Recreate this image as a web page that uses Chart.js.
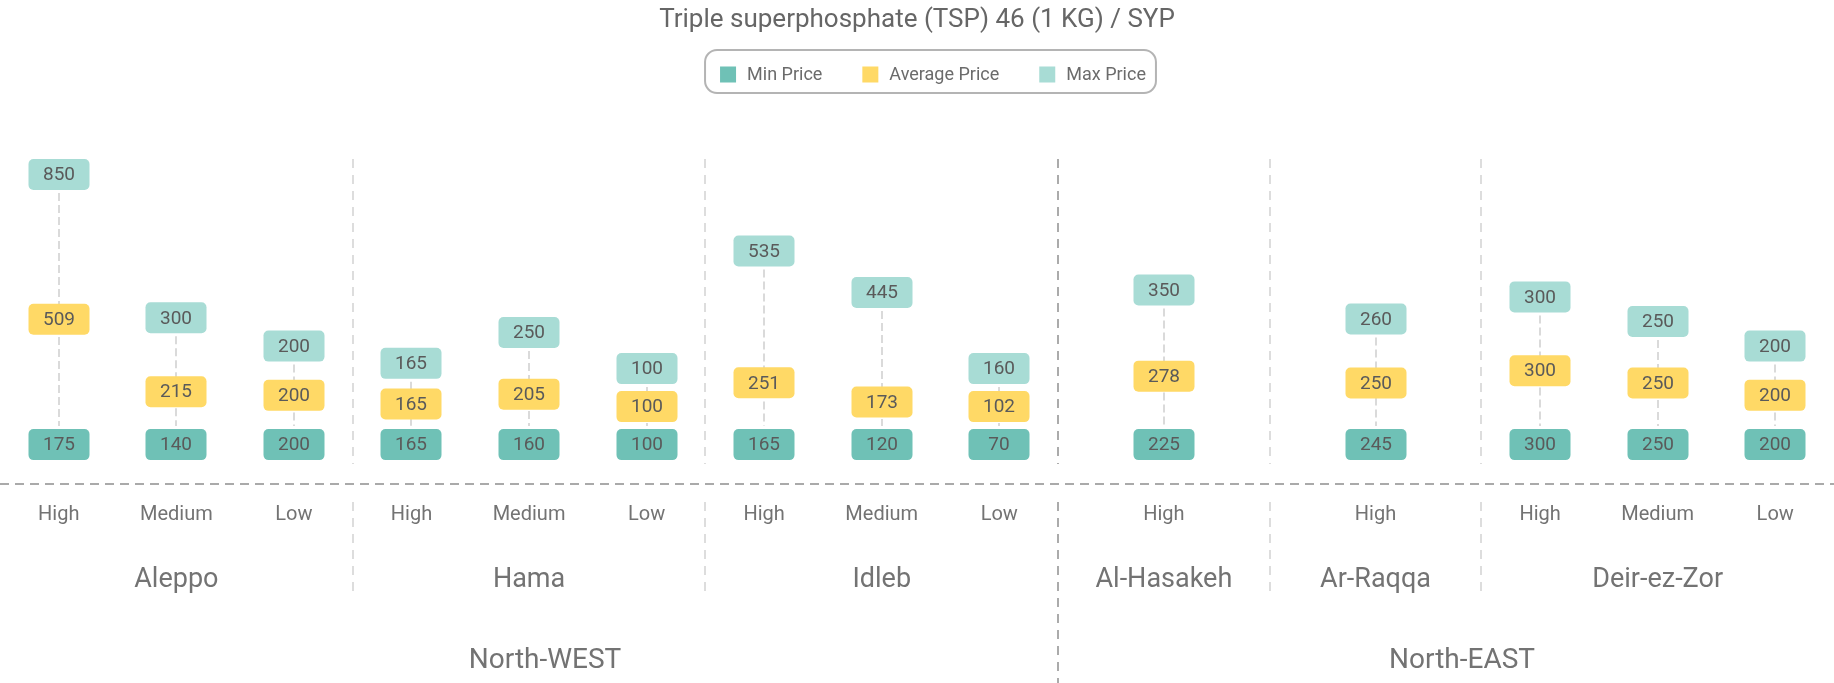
<!DOCTYPE html>
<html>
<head>
<meta charset="utf-8">
<title>Triple superphosphate (TSP) 46 (1 KG) / SYP</title>
<script src="https://cdn.jsdelivr.net/npm/chart.js@4.4.1/dist/chart.umd.min.js"></script>
<style>
  html, body { margin: 0; padding: 0; background: #fff; }
  #wrap { width: 1834px; height: 683px; position: relative; }
</style>
</head>
<body>
<div id="wrap"><canvas id="chart"></canvas></div>
<script>
const regions = ["North-WEST", "North-EAST"];
const governorates = ["Aleppo", "Hama", "Idleb", "Al-Hasakeh", "Ar-Raqqa", "Deir-ez-Zor"];
const govRegion = [0, 0, 0, 1, 1, 1];
const tiers = ["High", "Medium", "Low", "High", "Medium", "Low", "High", "Medium", "Low", "High", "High", "High", "Medium", "Low"];
const tierGov = [0, 0, 0, 1, 1, 1, 2, 2, 2, 3, 4, 5, 5, 5];

const minPrice = [175, 140, 200, 165, 160, 100, 165, 120, 70, 225, 245, 300, 250, 200];
const avgPrice = [509, 215, 200, 165, 205, 100, 251, 173, 102, 278, 250, 300, 250, 200];
const maxPrice = [850, 300, 200, 165, 250, 100, 535, 445, 160, 350, 260, 300, 250, 200];

const FONT = "Roboto, 'Noto Sans', sans-serif";
const TEXT = "#6b6b6b";
const COLORS = { min: "#6fc1b6", avg: "#ffd966", max: "#a8dcd5" };

// x layout: every governorate gets (tiers + 2) units, its tiers share it evenly
const govCount = governorates.map((g, gi) => tierGov.filter(t => t === gi).length);
const govStart = [];
let units = 0;
govCount.forEach(c => { govStart.push(units); units += c + 2; });
const govWidth = gi => govCount[gi] + 2;

const tierX = tierGov.map((gi, i) => {
  const j = tierGov.slice(0, i).filter(t => t === gi).length;
  return govStart[gi] + (j + 0.5) * govWidth(gi) / govCount[gi];
});

const BOX_W = 61, BOX_H = 31, GAP = 38;

function roundRect(ctx, x, y, w, h, r) {
  ctx.beginPath();
  ctx.moveTo(x + r, y);
  ctx.arcTo(x + w, y, x + w, y + h, r);
  ctx.arcTo(x + w, y + h, x, y + h, r);
  ctx.arcTo(x, y + h, x, y, r);
  ctx.arcTo(x, y, x + w, y, r);
  ctx.closePath();
}

function priceBox(ctx, cx, cy, fill, text) {
  ctx.fillStyle = fill;
  roundRect(ctx, cx - BOX_W / 2, cy - BOX_H / 2, BOX_W, BOX_H, 5);
  ctx.fill();
  ctx.fillStyle = "#5a5a5a";
  ctx.font = "19px " + FONT;
  ctx.textAlign = "center";
  ctx.textBaseline = "middle";
  ctx.fillText(text, cx, cy + 1);
}

// boxes + dashed connectors, min label sits at the base of each stack
const priceLabels = {
  id: "priceLabels",
  afterDatasetsDraw(chart) {
    const { ctx, chartArea, scales: { y } } = chart;
    const metaAvg = chart.getDatasetMeta(1);
    const metaMax = chart.getDatasetMeta(2);
    const base = y.getPixelForValue(0);
    ctx.save();
    tiers.forEach((t, i) => {
      const x = Math.round(metaAvg.data[i].x);
      const yMin = base;
      const yAvg = Math.min(metaAvg.data[i].y, yMin - GAP);
      let yMax = Math.min(metaMax.data[i].y, yAvg - GAP);
      yMax = Math.max(yMax, chartArea.top + BOX_H / 2);

      ctx.strokeStyle = "#dadada";
      ctx.lineWidth = 2;
      ctx.setLineDash([8, 4]);
      ctx.beginPath();
      ctx.moveTo(x, yMax + BOX_H / 2 + 3);
      ctx.lineTo(x, yMin - BOX_H / 2 - 3);
      ctx.stroke();
      ctx.setLineDash([]);

      priceBox(ctx, x, yMin, COLORS.min, minPrice[i]);
      priceBox(ctx, x, yAvg, COLORS.avg, avgPrice[i]);
      priceBox(ctx, x, yMax, COLORS.max, maxPrice[i]);
    });
    ctx.restore();
  }
};

// baseline, separators, governorate / region names and the boxed legend
const groupAxis = {
  id: "groupAxis",
  afterDraw(chart) {
    const { ctx, chartArea, scales: { x } } = chart;
    const bottom = chartArea.bottom;
    ctx.save();

    ctx.strokeStyle = "#aaaaaa";
    ctx.lineWidth = 2;
    ctx.setLineDash([9, 6]);
    ctx.beginPath();
    ctx.moveTo(0, bottom);
    ctx.lineTo(chart.width, bottom);
    ctx.stroke();

    govStart.slice(1).forEach((s, k) => {
      const gi = k + 1;
      const major = govRegion[gi] !== govRegion[gi - 1];
      const px = Math.round(x.getPixelForValue(s));
      ctx.strokeStyle = major ? "#ababab" : "#d2d2d2";
      ctx.lineWidth = major ? 2 : 1.5;
      ctx.setLineDash([9, 7]);
      ctx.beginPath();
      ctx.moveTo(px, chartArea.top);
      ctx.lineTo(px, bottom - 20);
      ctx.moveTo(px, bottom + 18);
      ctx.lineTo(px, major ? chart.height : bottom + 111);
      ctx.stroke();
    });
    ctx.setLineDash([]);

    ctx.fillStyle = "#737373";
    ctx.textAlign = "center";
    ctx.textBaseline = "middle";
    ctx.font = "27px " + FONT;
    governorates.forEach((g, gi) => {
      ctx.fillText(g, x.getPixelForValue(govStart[gi] + govWidth(gi) / 2), bottom + 96);
    });

    ctx.font = "28px " + FONT;
    regions.forEach((r, ri) => {
      const idx = govRegion.map((v, i) => (v === ri ? i : -1)).filter(i => i >= 0);
      const last = idx[idx.length - 1];
      const a = govStart[idx[0]];
      const b = govStart[last] + govWidth(last);
      ctx.fillText(r, x.getPixelForValue((a + b) / 2) + 16, bottom + 177);
    });

    // legend
    ctx.font = "18px " + FONT;
    const items = chart.data.datasets.map(d => ({
      label: d.label,
      color: d.backgroundColor,
      w: 16 + 11 + ctx.measureText(d.label).width
    }));
    const spacing = 40;
    const total = items.reduce((s, it) => s + it.w, 0) + spacing * (items.length - 1);
    let lx = 933 - total / 2;
    const ly = 74.5;
    ctx.strokeStyle = "#b4b4b4";
    ctx.lineWidth = 2;
    roundRect(ctx, lx - 15, 50, total + 25, 43, 12);
    ctx.stroke();
    ctx.textAlign = "left";
    items.forEach(it => {
      ctx.fillStyle = it.color;
      ctx.fillRect(lx, ly - 8, 16, 16);
      ctx.fillStyle = TEXT;
      ctx.fillText(it.label, lx + 27, ly + 1);
      lx += it.w + spacing;
    });

    ctx.restore();
  }
};

const points = vals => vals.map((v, i) => ({ x: tierX[i], y: v }));

new Chart(document.getElementById("chart"), {
  type: "line",
  data: {
    datasets: [
      { label: "Min Price", data: points(minPrice), stack: "base", backgroundColor: COLORS.min, borderColor: COLORS.min },
      { label: "Average Price", data: points(avgPrice), stack: "range", backgroundColor: COLORS.avg, borderColor: COLORS.avg },
      { label: "Max Price", data: points(maxPrice), stack: "range", backgroundColor: COLORS.max, borderColor: COLORS.max }
    ]
  },
  options: {
    responsive: true,
    maintainAspectRatio: false,
    animation: false,
    events: [],
    showLine: false,
    elements: { point: { radius: 0, hoverRadius: 0 } },
    layout: { padding: 0 },
    plugins: {
      legend: { display: false },
      tooltip: { enabled: false },
      title: {
        display: true,
        text: "Triple superphosphate (TSP) 46 (1 KG) / SYP",
        color: "#666666",
        font: { family: FONT, size: 26, weight: "normal" },
        padding: { top: 5, bottom: 122.8 }
      }
    },
    scales: {
      x: {
        type: "linear",
        min: 0,
        max: units,
        grid: { display: false },
        border: { display: false },
        afterBuildTicks: axis => { axis.ticks = tierX.map(v => ({ value: v })); },
        afterFit: axis => { axis.height = 199; },
        ticks: {
          autoSkip: false,
          maxRotation: 0,
          minRotation: 0,
          padding: 11,
          color: "#737373",
          font: { family: FONT, size: 20 },
          callback: (v, i) => tiers[i]
        }
      },
      y: {
        display: false,
        stacked: true,
        min: -160,
        max: 1160
      }
    }
  },
  plugins: [priceLabels, groupAxis]
});
</script>
</body>
</html>
